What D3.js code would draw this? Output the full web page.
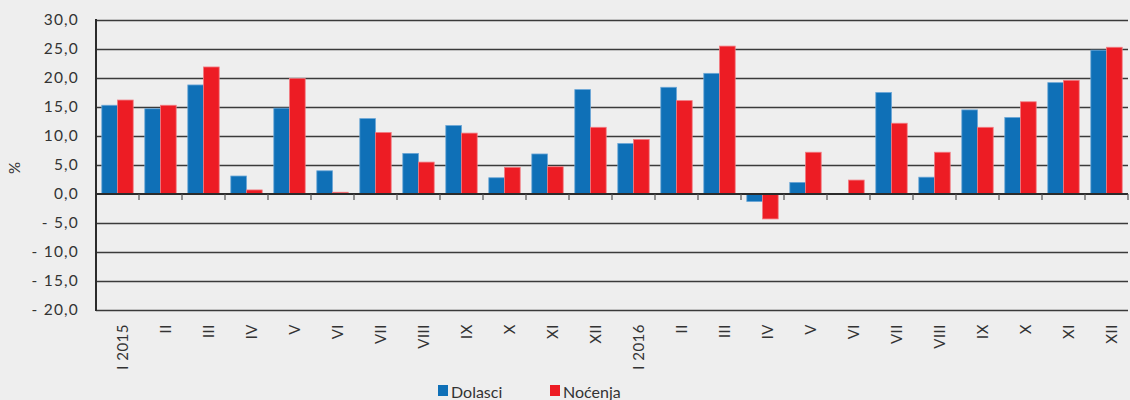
<!DOCTYPE html>
<html>
<head>
<meta charset="utf-8">
<script src="https://cdn.jsdelivr.net/npm/d3@7"></script>
<style>
  html, body { margin: 0; padding: 0; background: #eeeeee; }
  #chart { width: 1130px; height: 400px; overflow: hidden; }
  text { font-family: "Lato", "Open Sans", sans-serif; fill: #333; }
</style>
</head>
<body>
<div id="chart"></div>
<script>
// months, Jan 2015 - Dec 2016
const months = ["I 2015", "II", "III", "IV", "V", "VI", "VII", "VIII", "IX", "X", "XI", "XII",
                "I 2016", "II", "III", "IV", "V", "VI", "VII", "VIII", "IX", "X", "XI", "XII"];

const dolasci = [15.3, 14.7, 18.8, 3.1, 14.8, 4.0, 13.0, 7.0, 11.8, 2.8, 6.9, 18.0,
                 8.7, 18.4, 20.8, -1.3, 2.0, 0.0, 17.5, 2.9, 14.5, 13.2, 19.2, 24.8];

const nocenja = [16.2, 15.3, 21.9, 0.7, 19.9, 0.3, 10.6, 5.5, 10.5, 4.6, 4.7, 11.5,
                 9.4, 16.1, 25.5, -4.3, 7.2, 2.4, 12.2, 7.2, 11.5, 15.9, 19.6, 25.3];

const yTicks = [30, 25, 20, 15, 10, 5, 0, -5, -10, -15, -20];
const yTickLabels = ["30,0", "25,0", "20,0", "15,0", "10,0", "5,0", "0,0", "- 5,0", "- 10,0", "-  15,0", "- 20,0"];

const seriesNames = ["Dolasci", "Noćenja"];
const COLORS = { Dolasci: "#0f70b7", "Noćenja": "#ed1c24" };
const EDGES  = { Dolasci: "#6aa6d6", "Noćenja": "#f27a80" };

const width = 1130, height = 400;
const m = { top: 20, right: 2, bottom: 90, left: 96 };

const svg = d3.select("#chart").append("svg")
  .attr("width", width)
  .attr("height", height);

const x = d3.scaleBand()
  .domain(d3.range(months.length))
  .range([m.left, width - m.right])
  .padding(0);

const x1 = d3.scaleBand()
  .domain(seriesNames)
  .range([0, x.bandwidth()])
  .paddingInner(0)
  .paddingOuter(0.37);

const y = d3.scaleLinear()
  .domain([-20, 30])
  .range([height - m.bottom, m.top]);

// grid lines
svg.append("g")
  .selectAll("line")
  .data(yTicks.filter(d => d !== 0))
  .enter()
  .append("line")
  .attr("x1", m.left)
  .attr("x2", width - m.right)
  .attr("y1", d => Math.round(y(d)) + 0.5)
  .attr("y2", d => Math.round(y(d)) + 0.5)
  .attr("stroke", "#3a3a3a")
  .attr("stroke-width", 1.3);

// y tick labels
svg.append("g")
  .selectAll("text")
  .data(yTicks)
  .enter()
  .append("text")
  .attr("x", 79)
  .attr("y", d => y(d))
  .attr("dy", "0.35em")
  .attr("text-anchor", "end")
  .attr("font-size", 15.5)
  .attr("letter-spacing", 1.2)
  .text((d, i) => yTickLabels[i]);

// bars
const rows = months.map((mo, i) => ({ i, values: [dolasci[i], nocenja[i]] }));

const groups = svg.append("g")
  .selectAll("g")
  .data(rows)
  .enter()
  .append("g")
  .attr("transform", d => `translate(${x(d.i)},0)`);

groups.selectAll("rect")
  .data(d => seriesNames.map((s, k) => ({ s, v: d.values[k] })))
  .enter()
  .append("rect")
  .filter(d => d.v !== 0)
  .attr("x", d => x1(d.s))
  .attr("y", d => y(Math.max(0, d.v)))
  .attr("width", x1.bandwidth())
  .attr("height", d => Math.abs(y(d.v) - y(0)))
  .attr("fill", d => COLORS[d.s])
  .attr("stroke", d => EDGES[d.s])
  .attr("stroke-width", 0.8);

// zero line + category ticks
svg.append("line")
  .attr("x1", m.left)
  .attr("x2", width - m.right)
  .attr("y1", y(0))
  .attr("y2", y(0))
  .attr("stroke", "#2b2b2b")
  .attr("stroke-width", 2);

svg.append("g")
  .selectAll("line")
  .data(d3.range(1, months.length + 1))
  .enter()
  .append("line")
  .attr("x1", d => x.range()[0] + d * x.step())
  .attr("x2", d => x.range()[0] + d * x.step())
  .attr("y1", y(0))
  .attr("y2", y(0) + 6)
  .attr("stroke", "#555")
  .attr("stroke-width", 1.2);

// left axis line
svg.append("line")
  .attr("x1", m.left)
  .attr("x2", m.left)
  .attr("y1", y(30) - 1)
  .attr("y2", y(-20) + 1)
  .attr("stroke", "#2b2b2b")
  .attr("stroke-width", 2);

// x labels (rotated)
svg.append("g")
  .selectAll("text")
  .data(months)
  .enter()
  .append("text")
  .attr("transform", (d, i) => `translate(${x(i) + x.bandwidth() / 2 + 5},${y(-20) + 14}) rotate(-90)`)
  .attr("dy", "0.35em")
  .attr("text-anchor", "end")
  .attr("font-size", 15)
  .attr("letter-spacing", 0.5)
  .text(d => d);

// % label
svg.append("text")
  .attr("transform", `translate(15,${168}) rotate(-90)`)
  .attr("dy", "0.35em")
  .attr("text-anchor", "middle")
  .attr("font-size", 15)
  .text("%");

// legend
const legend = svg.append("g");
const legendX = [438, 550];
seriesNames.forEach((s, k) => {
  legend.append("rect")
    .attr("x", legendX[k])
    .attr("y", 385)
    .attr("width", 10)
    .attr("height", 11)
    .attr("fill", COLORS[s]);
  legend.append("text")
    .attr("x", legendX[k] + 13)
    .attr("y", 398)
    .attr("font-size", 16)
    .text(s);
});
</script>
</body>
</html>
